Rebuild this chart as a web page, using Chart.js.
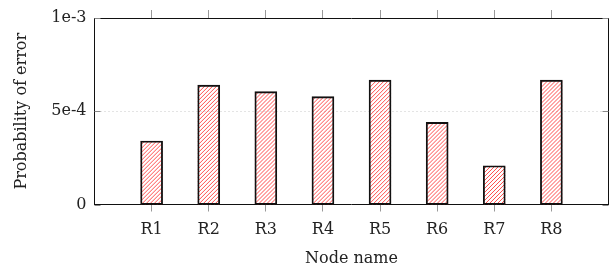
<!DOCTYPE html>
<html>
<head>
<meta charset="utf-8">
<script src="https://cdn.jsdelivr.net/npm/chart.js@4/dist/chart.umd.min.js"></script>
<style>
  html, body { margin: 0; padding: 0; background: #fff; }
  #wrap { width: 610px; height: 271px; }
</style>
</head>
<body>
<div id="wrap"><canvas id="c" width="610" height="271"></canvas></div>
<script>
const categories = ['R1', 'R2', 'R3', 'R4', 'R5', 'R6', 'R7', 'R8'];
const errorProbability = [3.4e-4, 6.4e-4, 6.05e-4, 5.78e-4, 6.67e-4, 4.4e-4, 2.08e-4, 6.67e-4];
const yTickValues = [0, 5e-4, 1e-3];
const yTickLabels = ['0', '5e-4', '1e-3'];
const gridValues = [5e-4];

const FONT = "'DejaVu Serif', serif";
const HATCH_COLOR = '#ff3b3b';
const HATCH_STEP = 4;

const framePlugin = {
  id: 'frame',
  beforeDatasetsDraw(chart) {
    const { ctx, chartArea: a, scales } = chart;
    const y = scales.y;
    ctx.save();
    ctx.strokeStyle = '#c8c8c8';
    ctx.lineWidth = 1;
    ctx.setLineDash([1, 3]);
    gridValues.forEach(v => {
      const py = Math.round(y.getPixelForValue(v)) + 0.5;
      ctx.beginPath();
      ctx.moveTo(a.left + 6, py);
      ctx.lineTo(a.right - 6, py);
      ctx.stroke();
    });
    ctx.restore();
    // hatch fill of bars (north-east lines)
    const meta = chart.getDatasetMeta(0);
    meta.data.forEach(bar => {
      const p = bar.getProps(['x', 'y', 'base', 'width'], true);
      const left = p.x - p.width / 2, right = p.x + p.width / 2;
      const top = Math.min(p.y, p.base), bottom = Math.max(p.y, p.base);
      ctx.save();
      ctx.beginPath();
      ctx.rect(left, top, right - left, bottom - top);
      ctx.clip();
      ctx.strokeStyle = HATCH_COLOR;
      ctx.lineWidth = 0.9;
      ctx.beginPath();
      const h = bottom - top;
      for (let x0 = left - h - HATCH_STEP; x0 < right + HATCH_STEP; x0 += HATCH_STEP) {
        ctx.moveTo(x0, bottom);
        ctx.lineTo(x0 + h, top);
      }
      ctx.stroke();
      ctx.restore();
    });
  },
  afterDraw(chart) {
    const { ctx, chartArea: a, scales } = chart;
    const y = scales.y;
    ctx.save();
    ctx.strokeStyle = '#888';
    ctx.lineWidth = 1;
    yTickValues.forEach(v => {
      const py = Math.round(y.getPixelForValue(v)) + 0.5;
      ctx.beginPath();
      ctx.moveTo(a.left, py); ctx.lineTo(a.left + 6, py);
      ctx.moveTo(a.right, py); ctx.lineTo(a.right - 6, py);
      ctx.stroke();
    });
    ctx.restore();
  }
};

const xTicksBuild = scale => {
  scale.ticks = categories.map((c, i) => ({ value: i + 1 }));
};

new Chart(document.getElementById('c'), {
  type: 'bar',
  data: {
    datasets: [{
      data: categories.map((c, i) => ({ x: i + 1, y: errorProbability[i] })),
      backgroundColor: 'rgba(0,0,0,0)',
      borderColor: '#111',
      borderWidth: 1.2,
      borderSkipped: false,
      barThickness: 22,
      xAxisID: 'x',
      yAxisID: 'y'
    }]
  },
  options: {
    responsive: false,
    animation: false,
    events: [],
    layout: { padding: 0 },
    plugins: { legend: { display: false }, tooltip: { enabled: false } },
    scales: {
      x: {
        type: 'linear',
        position: 'bottom',
        min: 0, max: 9,
        offset: false,
        afterBuildTicks: xTicksBuild,
        afterFit: s => { s.height = 66.5; },
        grid: { offset: false, drawOnChartArea: false, drawTicks: true, tickLength: 7, color: '#999' },
        border: { display: true, color: '#111', width: 1 },
        ticks: {
          callback: v => categories[v - 1],
          font: { family: FONT, size: 16 },
          color: '#222',
          padding: 9,
          maxRotation: 0,
          autoSkip: false
        },
        title: {
          display: true, text: 'Node name',
          font: { family: FONT, size: 16 }, color: '#222',
          padding: { top: 0, bottom: 3 }
        }
      },
      xTop: {
        type: 'linear',
        position: 'top',
        min: 0, max: 9,
        offset: false,
        afterBuildTicks: xTicksBuild,
        afterFit: s => { s.height = 18; },
        grid: { offset: false, drawOnChartArea: false, drawTicks: true, tickLength: 8, color: '#999' },
        border: { display: true, color: '#111', width: 1 },
        ticks: { display: false }
      },
      y: {
        type: 'linear',
        position: 'left',
        min: 0, max: 1e-3,
        afterBuildTicks: s => { s.ticks = yTickValues.map(v => ({ value: v })); },
        afterFit: s => { s.width = 94.5; },
        grid: { display: false, drawTicks: false },
        border: { display: true, color: '#111', width: 1 },
        ticks: {
          callback: (v, i) => yTickLabels[i],
          font: { family: FONT, size: 16 },
          color: '#222',
          padding: 8
        },
        title: {
          display: true, text: 'Probability of error',
          font: { family: FONT, size: 16 }, color: '#222',
          padding: { top: 12, bottom: 0 }
        }
      },
      yRight: {
        type: 'linear',
        position: 'right',
        min: 0, max: 1e-3,
        afterFit: s => { s.width = 1.5; },
        grid: { display: false, drawTicks: false },
        border: { display: true, color: '#111', width: 1 },
        ticks: { display: false }
      }
    }
  },
  plugins: [framePlugin]
});
</script>
</body>
</html>
